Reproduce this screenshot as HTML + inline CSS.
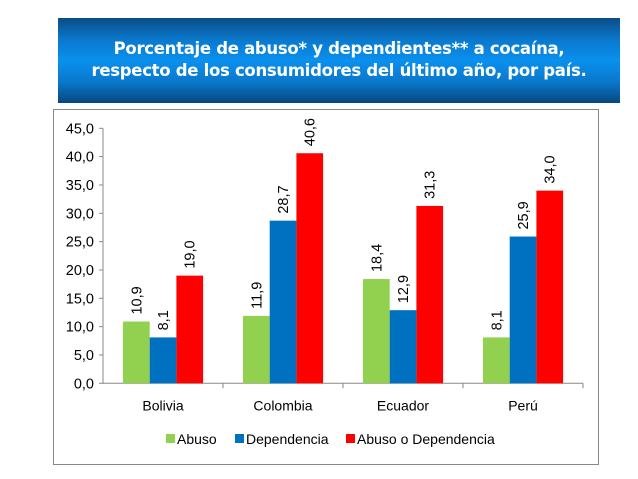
<!DOCTYPE html>
<html><head><meta charset="utf-8"><style>
body{margin:0;width:638px;height:479px;background:#fff;overflow:hidden;position:relative;font-family:"DejaVu Sans","Liberation Sans",sans-serif}
#banner{position:absolute;left:58px;top:18px;width:562px;height:85px;background:linear-gradient(#0a4c86 0%,#0a78cc 25%,#0a90ee 50%,#0a78cc 75%,#06487e 100%);color:#fff;font-weight:bold;font-size:16.5px;text-align:center;line-height:22px;padding-top:20px;box-sizing:border-box;letter-spacing:-0.3px}
#box{position:absolute;left:53px;top:109px;width:546px;height:356px;border:1px solid #888;box-sizing:border-box}
svg{position:absolute;left:0;top:0;font-family:"Liberation Sans",sans-serif}
</style></head><body>
<div id="banner">Porcentaje de abuso* y dependientes** a cocaína,<br>respecto de los consumidores del último año, por país.</div>
<div id="box"></div>
<svg id="chart" width="638" height="479"></svg>
<script>
const categories=["Bolivia","Colombia","Ecuador","Perú"];
const abuso=[10.9,11.9,18.4,8.1];
const dependencia=[8.1,28.7,12.9,25.9];
const abusoODep=[19.0,40.6,31.3,34.0];
const yTicks=[0,5,10,15,20,25,30,35,40,45];
const seriesNames=["Abuso","Dependencia","Abuso o Dependencia"];
const colors=["#92d050","#0070c0","#ff0000"];
const svg=document.getElementById('chart');const NS="http://www.w3.org/2000/svg";
const x0=103,x1=583,yb=383.3,yt=128.3,ymax=45;
const y=v=>yb-(v/ymax)*(yb-yt);
const cw=(x1-x0)/categories.length,bw=26.7,gOff=20;
function el(t,a){const e=document.createElementNS(NS,t);for(const k in a)e.setAttribute(k,a[k]);svg.appendChild(e);return e;}
yTicks.forEach(t=>{
 const l=el('line',{x1:x0-4,x2:x0,y1:y(t),y2:y(t),stroke:'#888'});
 
 
 const tx=el('text',{x:x0-9,y:y(t)+5,'text-anchor':'end','font-size':'14.5',fill:'#000'});
 tx.textContent=t.toFixed(1).replace('.',',');
 
 
});
const ax=el('line',{x1:x0,x2:x0,y1:yt,y2:yb,stroke:'#888'});


const xa=el('line',{x1:x0,x2:x1,y1:yb,y2:yb,stroke:'#888'});


const series=[abuso,dependencia,abusoODep];
categories.forEach((c,i)=>{
 const cx=x0+i*cw;
 const tk=el('line',{x1:cx+cw,x2:cx+cw,y1:yb,y2:yb+5,stroke:'#888'});
 
 
 const lb=el('text',{x:cx+cw/2,y:yb+27,'text-anchor':'middle','font-size':'14',fill:'#000'});
 lb.textContent=c;
 
 
 series.forEach((s,j)=>{
  const bx=cx+gOff+j*bw,v=s[i];
  const r=el('rect',{x:bx,y:y(v),width:bw,height:yb-y(v),fill:colors[j]});
  
  
  const tx=bx+bw/2+5,ty=y(v)-7;
  const vl=el('text',{x:tx,y:ty,transform:`rotate(-90 ${tx} ${ty})`,'font-size':'14.5',fill:'#000'});
  vl.textContent=v.toFixed(1).replace('.',',');
  
  
 });
});
const legX=[166,235,346];
seriesNames.forEach((n,j)=>{
 const r=el('rect',{x:legX[j],y:434,width:9,height:9,fill:colors[j]});
 
 
 const t=el('text',{x:legX[j]+11,y:444,'font-size':'14',fill:'#000'});
 t.textContent=n;
 
 
});
</script>
</body></html>
